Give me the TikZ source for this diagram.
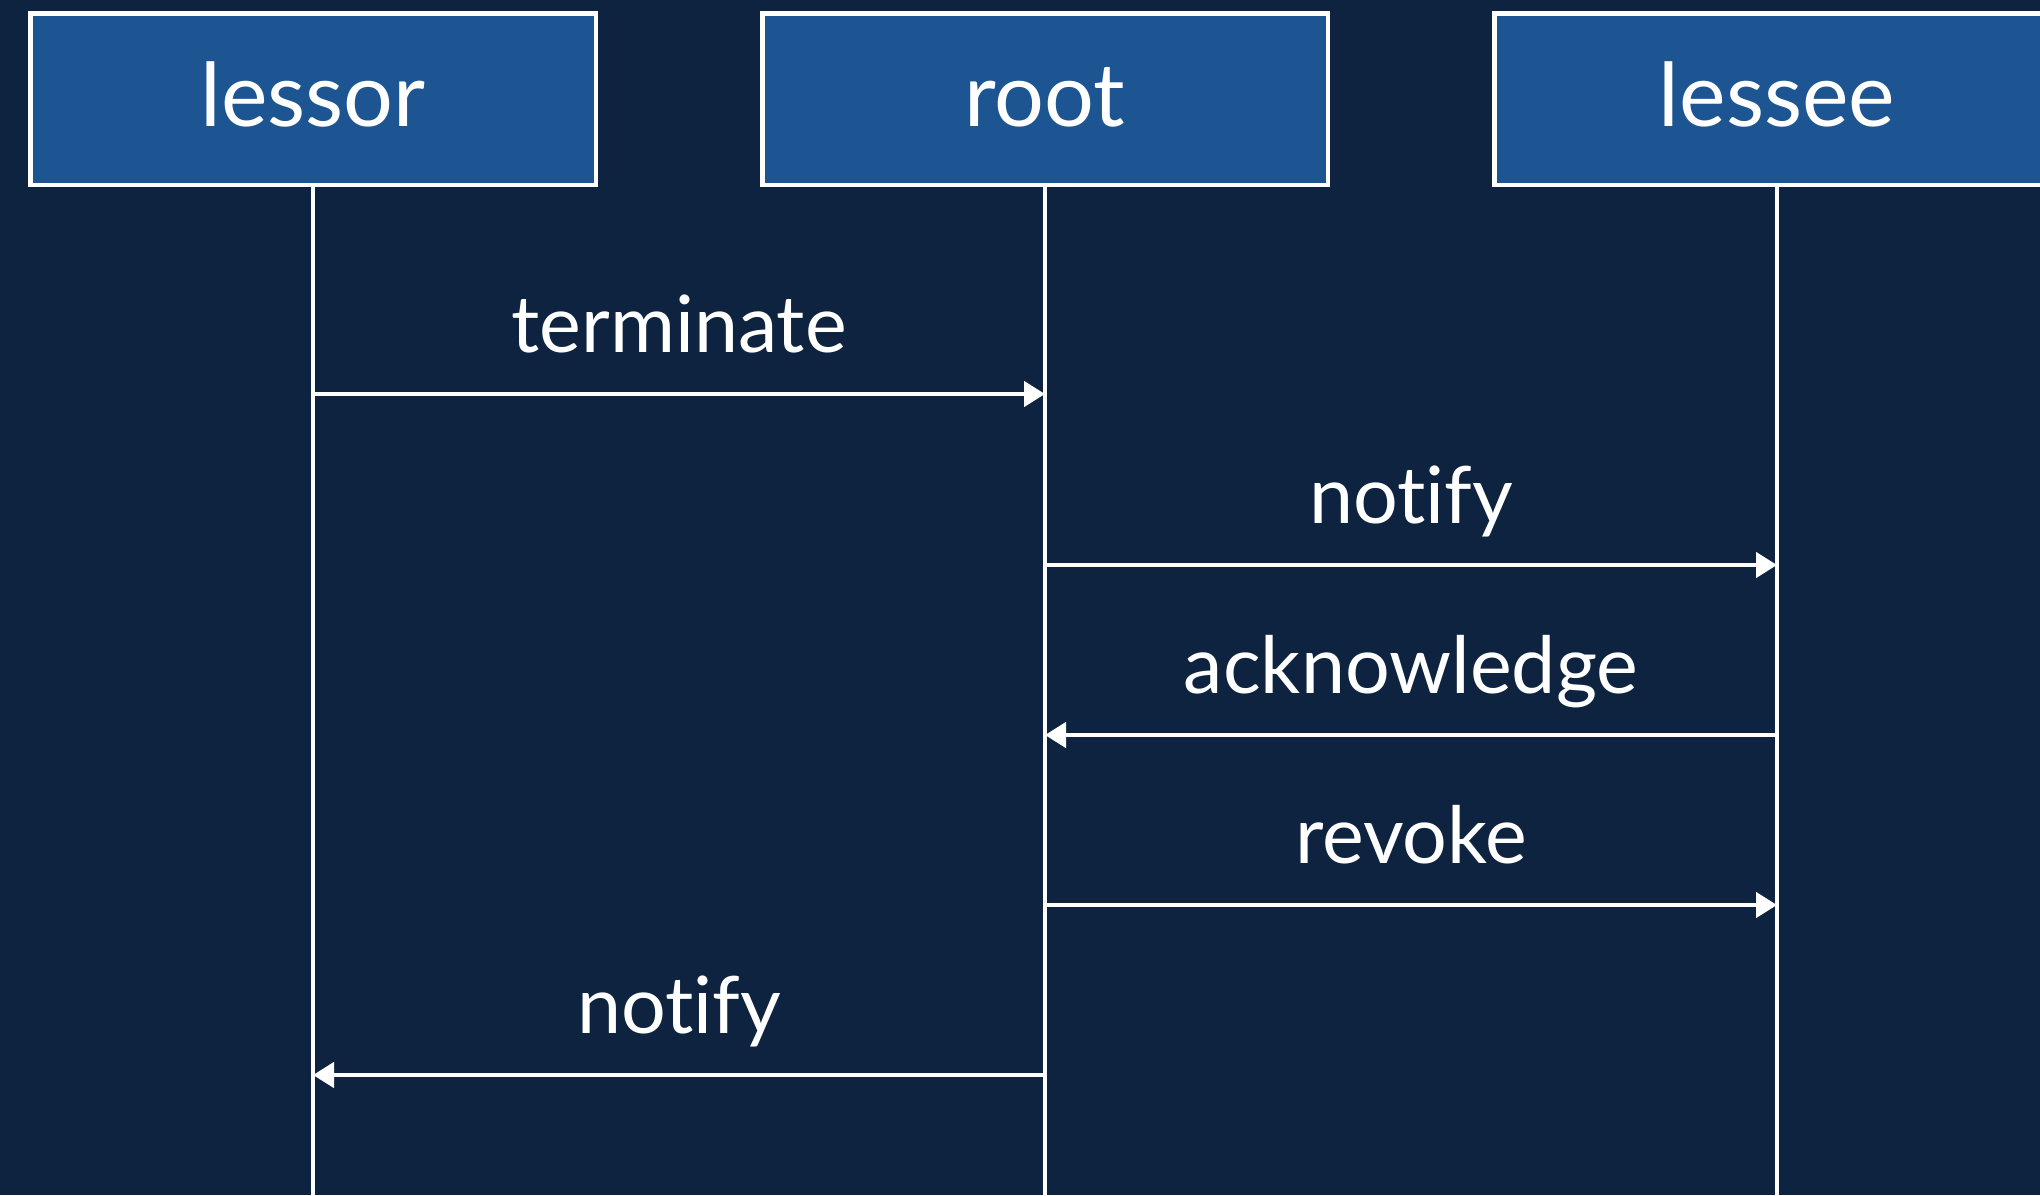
\documentclass[tikz,border=0pt]{standalone}
\usepackage{fontspec}
\setmainfont{Lato}[Ligatures=NoCommon]
\usetikzlibrary{arrows.meta}
\definecolor{bg}{HTML}{0E2340}
\definecolor{boxfill}{HTML}{1C5591}
\tikzset{
  actor/.style={draw=white, fill=boxfill, line width=2.25pt, minimum width=282.75pt, minimum height=85.75pt, inner sep=0pt, text=white, text height=27pt, text depth=0pt, font=\fontsize{44}{52}\selectfont},
  lifeline/.style={draw=white, line width=2.25pt},
  msg/.style={draw=white, line width=2.25pt, -{Triangle[length=10.5pt,width=12.5pt]}},
  msglabel/.style={text=white, anchor=base, inner sep=0pt, font=\fontsize{39.5}{47}\selectfont}
}
\begin{document}
\begin{tikzpicture}[x=0.5pt,y=-0.5pt]
\fill[bg] (0,0) rectangle (2040,1195);
\useasboundingbox (0,0) rectangle (2040,1195);
\clip (0,0) rectangle (2040,1195);
% actors
\node[actor] (lessor) at (313,99) {lessor};
\node[actor] (root) at (1045,99) {root};
\node[actor] (lessee) at (1777,99) {lessee};
% bottoms of lifelines
\coordinate (lessorEnd) at (313,1200);
\coordinate (rootEnd) at (1045,1200);
\coordinate (lesseeEnd) at (1777,1200);
\draw[lifeline] (lessor.south) -- (lessorEnd);
\draw[lifeline] (root.south) -- (rootEnd);
\draw[lifeline] (lessee.south) -- (lesseeEnd);
% message points
\coordinate (l1) at (313,394);   \coordinate (r1) at (1045,394);
\coordinate (r2) at (1045,565);  \coordinate (e2) at (1777,565);
\coordinate (r3) at (1045,735);  \coordinate (e3) at (1777,735);
\coordinate (r4) at (1045,905);  \coordinate (e4) at (1777,905);
\coordinate (r5) at (1045,1075); \coordinate (l5) at (313,1075);
% messages
\draw[msg] (l1) -- (r1);
\draw[msg] (r2) -- (e2);
\draw[msg] (e3) -- (r3);
\draw[msg] (r4) -- (e4);
\draw[msg] (r5) -- (l5);
% labels
\node[msglabel] (t1) at (679,352) {terminate};
\node[msglabel] (t2) at (1411,523) {notify};
\node[msglabel] (t3) at (1411,693) {acknowledge};
\node[msglabel] (t4) at (1411,863) {revoke};
\node[msglabel] (t5) at (679,1033) {notify};
\end{tikzpicture}
\end{document}
